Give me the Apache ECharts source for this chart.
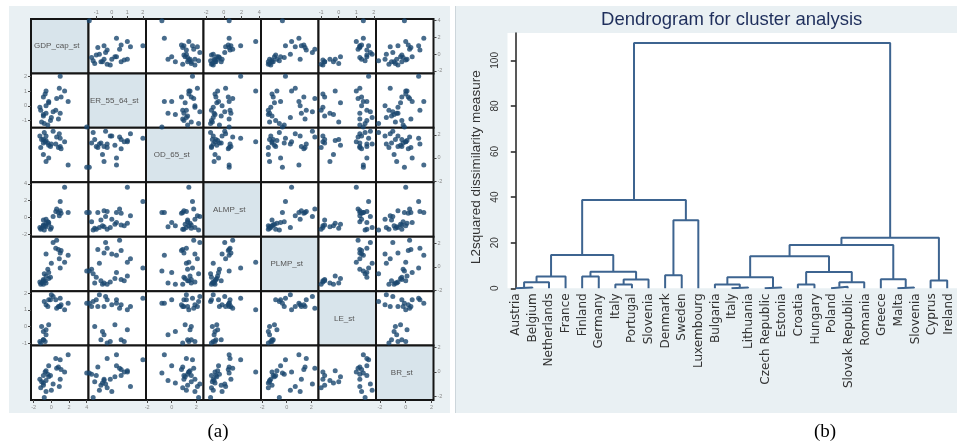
<!DOCTYPE html>
<html>
<head>
<meta charset="utf-8">
<script src="https://cdn.jsdelivr.net/npm/echarts@6/dist/echarts.min.js"></script>
<style>
  html, body { margin: 0; padding: 0; background: #fff; }
  #chart { width: 957px; height: 447px; }
</style>
</head>
<body>
<div id="chart"></div>
<script>
// ---- scatter matrix data (standardized values, one per country, dendrogram order) ----
const varNames = ['GDP_cap_st', 'ER_55_64_st', 'OD_65_st', 'ALMP_st', 'PLMP_st', 'LE_st', 'BR_st'];
const gdpCap = [1.0, 0.8, 1.1, 0.5, 0.6, 0.9, 0.2, -0.6, -0.4, 1.5, 1.0, 4.0, -1.3, -0.9, -0.7, -0.3, -0.6, -1.1, -0.9, -0.9, -0.6, -1.2, -0.8, -0.1, 0.0, -0.3, 1.9];
const er5564 = [-0.5, -0.9, 0.6, -0.3, 0.5, 1.2, -0.4, 0.0, -1.3, 1.0, 2.0, -1.45, -0.1, 0.6, 0.8, 0.2, 1.0, -1.1, -0.7, -0.6, -0.5, -0.3, -1.2, -1.0, -0.8, 0.3, 0.3];
const od65 = [1.0, 0.9, 0.8, 1.2, 1.8, 2.1, 2.3, 1.9, 1.3, 1.4, 1.7, -0.8, 1.9, 1.6, 1.4, 1.1, 1.5, 1.6, 1.3, 0.3, -0.3, 0.9, 2.2, 1.0, 1.2, 0.0, -0.6];
const almp = [0.8, 0.6, 0.5, 0.7, 1.0, 0.2, 0.1, -0.2, -0.5, 3.6, 1.9, 0.6, -1.2, -0.9, -1.0, -0.8, -0.7, -1.3, -0.3, -1.0, -1.1, -1.4, -1.5, -1.4, -1.2, -0.6, 0.6];
const plmp = [1.2, 1.5, 1.4, 1.6, 2.3, 0.7, 2.1, 1.1, -0.2, 0.4, -0.1, -0.35, -1.3, -1.1, -1.2, -1.0, -0.8, -1.4, -1.2, -1.5, -1.4, -1.5, -0.6, -0.9, 0.3, -0.5, 1.0];
const le = [1.2, 1.2, 1.3, 1.6, 1.1, 1.2, 1.8, 1.3, 1.2, 1.0, 1.7, 1.4, -0.9, -0.8, -0.9, 0.1, -0.2, 0.0, -0.8, -0.3, -0.5, -1.0, 1.5, 1.6, 1.9, 1.6, 1.4];
const br = [-0.6, 0.4, 0.2, 1.1, 0.3, -1.2, -1.0, -1.6, -0.2, 0.0, 1.0, -0.1, -0.6, -0.3, 0.0, -0.4, 0.1, -0.8, -1.1, -0.9, -0.7, -1.3, -2.1, -0.3, -1.5, 0.5, 1.4];
const varMin = [-2.3, -1.5, -2.1, -2.3, -2.1, -1.15, -2.3];
const varMax = [4.2, 2.2, 2.6, 4.2, 2.6, 2.12, 2.15];
const varTicks = [[-2, 0, 2, 4], [-1, 0, 1, 2], [-2, 0, 2], [-2, 0, 2, 4], [-2, 0, 2], [-1, 0, 1, 2], [-2, 0, 2]];

// ---- dendrogram data ----
const countries = ['Austria', 'Belgium', 'Netherlands', 'France', 'Finland', 'Germany', 'Italy', 'Portugal', 'Slovenia',
  'Denmark', 'Sweden', 'Luxembourg', 'Bulgaria', 'Italy', 'Lithuania', 'Czech Republic', 'Estonia', 'Croatia',
  'Hungary', 'Poland', 'Slovak Republic', 'Romania', 'Greece', 'Malta', 'Slovenia', 'Cyprus', 'Ireland'];
// node ids: 0..26 are leaves, 27+k is the cluster made by merge k
const mergeA = [0, 27, 28, 4, 6, 31, 30, 29, 9, 35, 34, 13, 12, 15, 39, 17, 19, 43, 42, 41, 23, 22, 46, 25, 49, 37];
const mergeB = [1, 2, 3, 5, 7, 8, 32, 33, 10, 11, 36, 14, 38, 16, 40, 18, 20, 21, 44, 45, 24, 47, 48, 26, 50, 51];
const mergeH = [0.4, 2.7, 5.2, 5.2, 1.7, 3.9, 7.3, 14.6, 5.7, 29.9, 38.7, 0.4, 1.7, 0.4, 4.9, 1.7, 0.7, 2.7, 7.1, 14.1, 0.4, 4.0, 19.0, 3.4, 22.2, 107.6];
const yTicks = [0, 20, 40, 60, 80, 100];

const vars = [gdpCap, er5564, od65, almp, plmp, le, br];
const mxLeft = 31, mxTop = 19, cellW = 57.5, cellH = 54.43;
const dotColor = '#1a476f';
const lineColor = '#3d6490';
const sans = 'Liberation Sans';

function cellAxis(g, v, lab, pos) {
  return {
    gridIndex: g, type: 'value', position: pos, min: varMin[v], max: varMax[v],
    splitLine: { show: false }, axisLine: { show: false, onZero: false },
    axisTick: { show: lab, customValues: varTicks[v], length: 3, lineStyle: { color: '#444', width: 1 } },
    axisLabel: { show: lab, customValues: varTicks[v], fontSize: 5.5, color: '#888', margin: 4, fontFamily: sans }
  };
}

const grids = [], xAxes = [], yAxes = [], series = [], graphics = [];

graphics.push({ type: 'rect', z: -10, shape: { x: 9, y: 6, width: 441, height: 407 }, style: { fill: '#e9f0f3' } });
graphics.push({ type: 'rect', z: -10, shape: { x: 455, y: 6, width: 502, height: 407 }, style: { fill: '#e9f0f3' } });
graphics.push({ type: 'line', z: -9, shape: { x1: 455.5, y1: 6, x2: 455.5, y2: 413 }, style: { stroke: '#cdd6db', lineWidth: 1 } });

for (let i = 0; i < 7; i++) {
  for (let j = 0; j < 7; j++) {
    const g = i * 7 + j;
    const diag = i === j;
    grids.push({
      left: mxLeft + j * cellW, top: mxTop + i * cellH, width: cellW, height: cellH,
      show: true, backgroundColor: diag ? '#d8e4eb' : '#ffffff', borderColor: '#151515', borderWidth: 2,
      outerBoundsMode: 'none'
    });
    const topLab = i === 0 && j % 2 === 1;
    const botLab = i === 6 && j % 2 === 0;
    const leftLab = j === 0 && i % 2 === 1;
    const rightLab = j === 6 && i % 2 === 0;
    xAxes.push(cellAxis(g, j, topLab || botLab, topLab ? 'top' : 'bottom'));
    yAxes.push(cellAxis(g, i, leftLab || rightLab, rightLab ? 'right' : 'left'));
    if (diag) {
      graphics.push({
        type: 'text', x: mxLeft + (j + 0.5) * cellW - 3, y: mxTop + (i + 0.5) * cellH,
        style: { text: varNames[i], fill: '#555', font: '8px "Liberation Sans"', align: 'center', verticalAlign: 'middle' }
      });
    } else {
      series.push({
        type: 'scatter', xAxisIndex: g, yAxisIndex: g, clip: false,
        symbolSize: 5, itemStyle: { color: dotColor },
        data: vars[j].map((v, k) => [v, vars[i][k]])
      });
    }
  }
}

// ---- dendrogram ----
const dg = grids.length;
grids.push({ left: 507.5, top: 33, width: 449.5, height: 255.3, show: true, backgroundColor: '#ffffff', borderWidth: 0, outerBoundsMode: 'none' });
xAxes.push({
  gridIndex: dg, type: 'category', data: countries, position: 'bottom',
  axisLine: { show: false }, axisTick: { show: false }, splitLine: { show: false },
  axisLabel: { interval: 0, rotate: 90, fontSize: 12, color: '#333', margin: 5, fontFamily: 'DejaVu Sans' }
});
xAxes.push({ gridIndex: dg, type: 'value', min: -0.5, max: 26.5 + 1.5 / 16.6, show: false });
yAxes.push({
  gridIndex: dg, type: 'value', min: 0, max: 112, position: 'left',
  name: 'L2squared dissimilarity measure', nameLocation: 'middle', nameGap: 24, nameRotate: 90,
  nameTextStyle: { fontSize: 13.5, color: '#333', fontFamily: sans, padding: [0, 13, 0, 0] },
  splitLine: { show: false },
  axisLine: { show: true, lineStyle: { color: '#222', width: 1.5 } },
  axisTick: { show: true, customValues: yTicks, length: 5, lineStyle: { color: '#222', width: 1.5 } },
  axisLabel: { customValues: yTicks, rotate: 90, fontSize: 10, color: '#333', margin: 7, fontFamily: sans }
});

const pos = countries.map((c, k) => k);
const ht = countries.map(() => 0);
for (let m = 0; m < mergeA.length; m++) {
  const a = mergeA[m], b = mergeB[m], h = mergeH[m];
  series.push({
    type: 'line', xAxisIndex: dg + 1, yAxisIndex: dg, symbol: 'none', silent: true,
    lineStyle: { color: lineColor, width: 2 },
    data: [[pos[a], ht[a]], [pos[a], h], [pos[b], h], [pos[b], ht[b]]]
  });
  pos.push((pos[a] + pos[b]) / 2);
  ht.push(h);
}

graphics.push({
  type: 'text', x: 731.7, y: 20,
  style: { text: 'Dendrogram for cluster analysis', fill: '#1f2f5c', font: '18.5px "Liberation Sans"', align: 'center', verticalAlign: 'middle' }
});
graphics.push({ type: 'text', x: 218, y: 432, style: { text: '(a)', fill: '#000', font: '19px "Liberation Serif"', align: 'center', verticalAlign: 'middle' } });
graphics.push({ type: 'text', x: 825, y: 432, style: { text: '(b)', fill: '#000', font: '19px "Liberation Serif"', align: 'center', verticalAlign: 'middle' } });

const myChart = echarts.init(document.getElementById('chart'));
myChart.setOption({
  animation: false,
  backgroundColor: '#ffffff',
  grid: grids,
  xAxis: xAxes,
  yAxis: yAxes,
  series: series,
  graphic: graphics
});
window.addEventListener('resize', () => myChart.resize());
</script>
</body>
</html>
